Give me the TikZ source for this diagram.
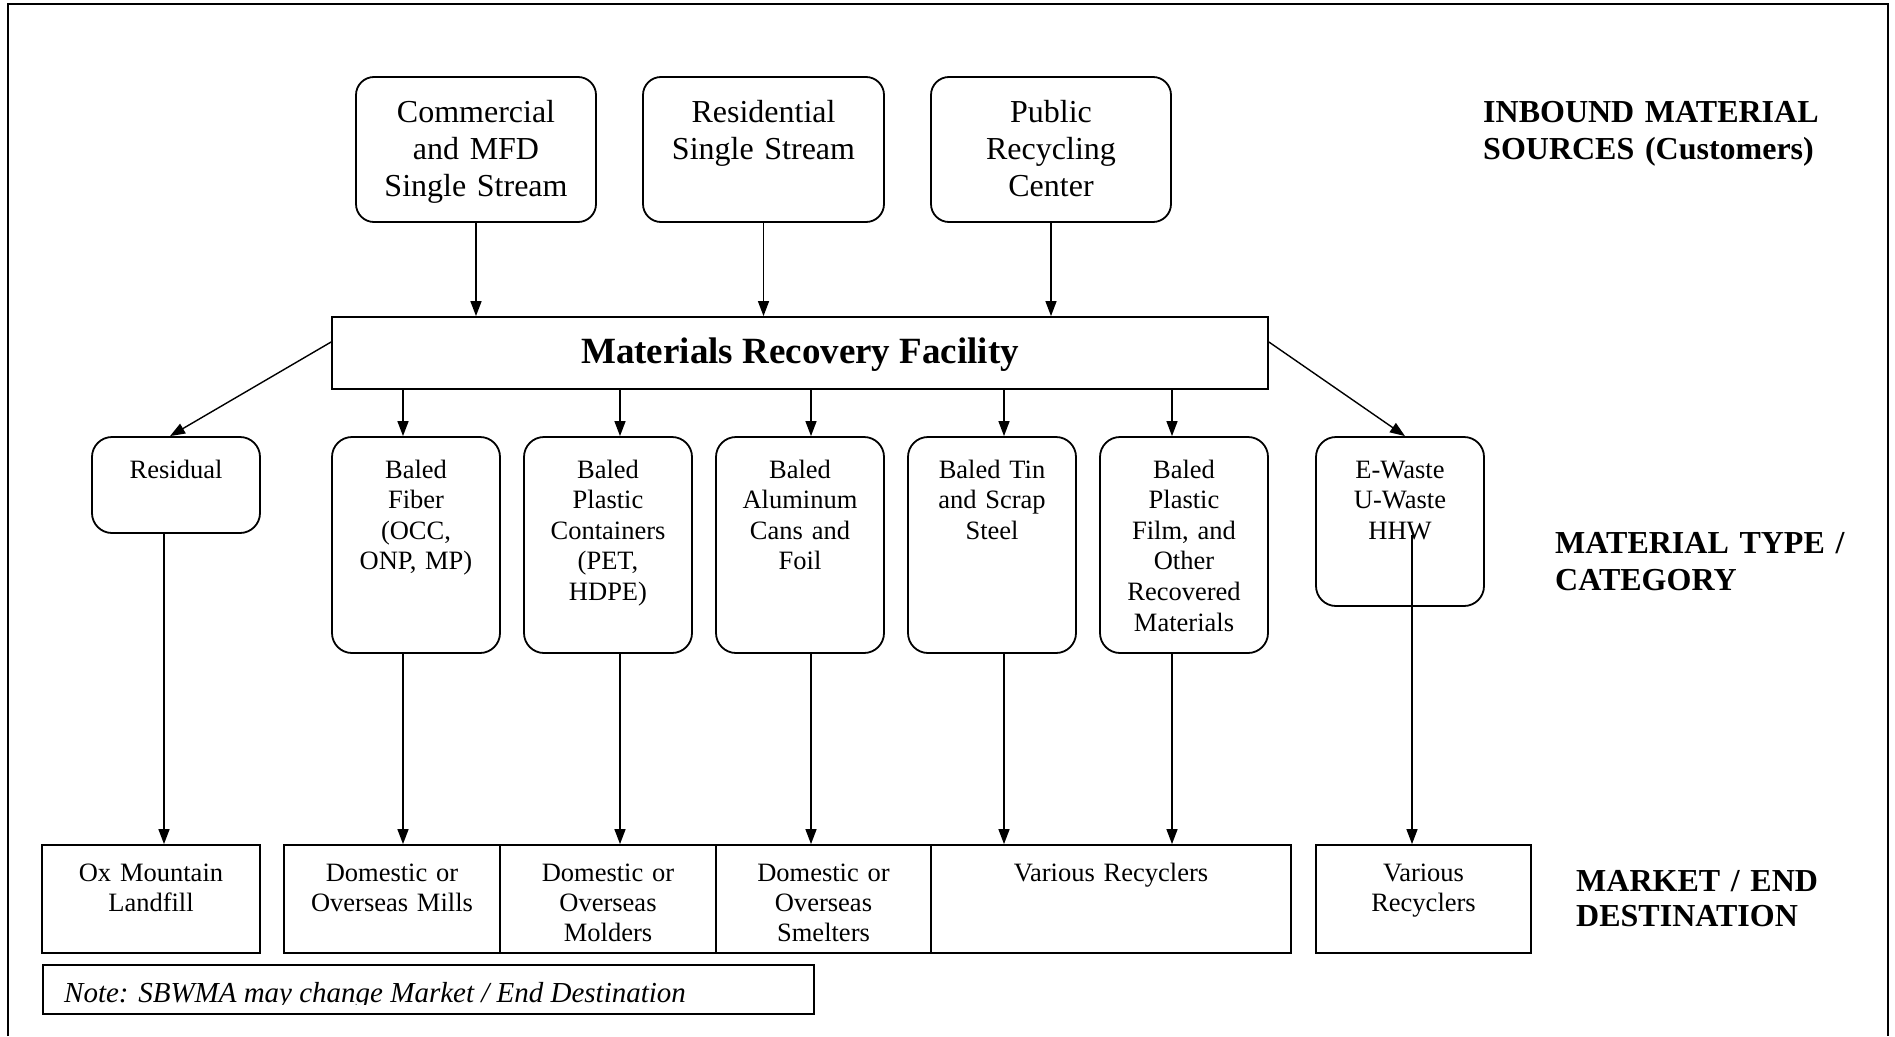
\documentclass[tikz,border=0pt]{standalone}
\usepackage{fontspec}
\setmainfont{Liberation Serif}
\usetikzlibrary{arrows.meta}
\begin{document}
\begin{tikzpicture}[x=1pt,y=-1pt,
  box/.style={draw, line width=1.8pt, inner sep=0pt},
  rbox/.style={box, rounded corners=18pt},
  arr/.style={line width=1.4pt, -{Triangle[length=15pt,width=11pt]}},
  toptxt/.style={anchor=base, align=center, inner sep=0pt, text width=230pt, font=\fontsize{32}{37}\selectfont},
  midtxt/.style={anchor=base, align=center, inner sep=0pt, text width=#1, font=\fontsize{26.5}{30.6}\selectfont},
  midtxt/.default=160pt,
  bottxt/.style={anchor=base, align=center, inner sep=0pt, text width=#1, font=\fontsize{26.5}{30}\selectfont},
  bottxt/.default=205pt,
  sidelabel/.style={anchor=base west, align=left, inner sep=0pt, text width=380pt, font=\bfseries\fontsize{32}{37}\selectfont}
]
\useasboundingbox (0,0) rectangle (1895,1036);

% outer frame
\draw[line width=2pt] (8,1036) -- (8,4) -- (1888,4) -- (1888,1036);

% inbound sources
\node[rbox, minimum width=240pt, minimum height=145pt] (comm) at (476,149.5) {};
\node[rbox, minimum width=241pt, minimum height=145pt] (resi) at (763.5,149.5) {};
\node[rbox, minimum width=240pt, minimum height=145pt] (pub) at (1051,149.5) {};
\node[toptxt] (commT) at (476,122) {Commercial\\and MFD\\Single Stream};
\node[toptxt] (resiT) at (763.5,122) {Residential\\Single Stream};
\node[toptxt] (pubT) at (1051,122) {Public\\Recycling\\Center};

% MRF
\node[box, minimum width=936pt, minimum height=72pt] (mrf) at (800,353) {};
\node[anchor=base, inner sep=0pt, font=\bfseries\fontsize{37}{42}\selectfont] (mrfT) at (800,363.5) {Materials Recovery Facility};

\draw[arr] (comm.south) -- (comm.south |- mrf.north);
\draw[arr] (resi.south) -- (resi.south |- mrf.north);
\draw[arr] (pub.south) -- (pub.south |- mrf.north);

% material categories
\node[box, rounded corners=20pt, minimum width=168pt, minimum height=96pt] (resid) at (176,485) {};
\node[box, rounded corners=20pt, minimum width=168pt, minimum height=216pt] (fiber) at (416,545) {};
\node[box, rounded corners=20pt, minimum width=168pt, minimum height=216pt] (plast) at (608,545) {};
\node[box, rounded corners=20pt, minimum width=168pt, minimum height=216pt] (alum) at (800,545) {};
\node[box, rounded corners=20pt, minimum width=168pt, minimum height=216pt] (tin) at (992,545) {};
\node[box, rounded corners=20pt, minimum width=168pt, minimum height=216pt] (film) at (1184,545) {};
\node[box, rounded corners=20pt, minimum width=168pt, minimum height=169pt] (ewaste) at (1400,521.5) {};
\node[midtxt] (residT) at (176,478) {Residual};
\node[midtxt] (fiberT) at (416,478) {Baled\\Fiber\\(OCC,\\ONP, MP)};
\node[midtxt] (plastT) at (608,478) {Baled\\Plastic\\Containers\\(PET,\\HDPE)};
\node[midtxt] (alumT) at (800,478) {Baled\\Aluminum\\Cans and\\Foil};
\node[midtxt] (tinT) at (992,478) {Baled Tin\\and Scrap\\Steel};
\node[midtxt] (filmT) at (1184,478) {Baled\\Plastic\\Film, and\\Other\\Recovered\\Materials};
\node[midtxt] (ewasteT) at (1400,478) {E-Waste\\U-Waste\\HHW};

% connector columns
\coordinate (c0) at (164,0);
\coordinate (c1) at (403,0);
\coordinate (c2) at (620,0);
\coordinate (c3) at (811,0);
\coordinate (c4) at (1004,0);
\coordinate (c5) at (1172,0);
\coordinate (hhw) at (1412,535);

\draw[arr] (mrf.south -| c1) -- (fiber.north -| c1);
\draw[arr] (mrf.south -| c2) -- (plast.north -| c2);
\draw[arr] (mrf.south -| c3) -- (alum.north -| c3);
\draw[arr] (mrf.south -| c4) -- (tin.north -| c4);
\draw[arr] (mrf.south -| c5) -- (film.north -| c5);
\draw[arr] ([yshift=11pt]mrf.west) -- ([xshift=-6pt]resid.north);
\draw[arr] ([yshift=11pt]mrf.east) -- ([xshift=5pt]ewaste.north);

% market / end destination
\node[box, minimum width=218pt, minimum height=108pt] (ox) at (151,899) {};
\node[box, minimum width=216pt, minimum height=108pt] (mills) at (392,899) {};
\node[box, minimum width=216pt, minimum height=108pt] (molders) at (608,899) {};
\node[box, minimum width=215pt, minimum height=108pt] (smelt) at (823.5,899) {};
\node[box, minimum width=360pt, minimum height=108pt] (varA) at (1111,899) {};
\node[box, minimum width=215pt, minimum height=108pt] (varB) at (1423.5,899) {};
\node[bottxt] (oxT) at (151,881) {Ox Mountain\\Landfill};
\node[bottxt] (millsT) at (392,881) {Domestic or\\Overseas Mills};
\node[bottxt] (moldersT) at (608,881) {Domestic or\\Overseas\\Molders};
\node[bottxt] (smeltT) at (823.5,881) {Domestic or\\Overseas\\Smelters};
\node[bottxt=350pt] (varAT) at (1111,881) {Various Recyclers};
\node[bottxt] (varBT) at (1423.5,881) {Various\\Recyclers};

\draw[arr] (resid.south -| c0) -- (ox.north -| c0);
\draw[arr] (fiber.south -| c1) -- (mills.north -| c1);
\draw[arr] (plast.south -| c2) -- (molders.north -| c2);
\draw[arr] (alum.south -| c3) -- (smelt.north -| c3);
\draw[arr] (tin.south -| c4) -- (varA.north -| c4);
\draw[arr] (film.south -| c5) -- (varA.north -| c5);
\draw[arr] (hhw) -- (hhw |- varB.north);

% note
\begin{scope}
\clip (43,965) rectangle (814,1004.5);
\node[anchor=base west, inner sep=0pt, font=\itshape\fontsize{29}{34}\selectfont] (noteT) at (64,1002) {Note: SBWMA may change Market / End Destination};
\end{scope}
\node[box, minimum width=771pt, minimum height=49pt] (note) at (428.5,989.5) {};

% side labels
\node[sidelabel] (lab1) at (1483,122) {INBOUND MATERIAL\\SOURCES (Customers)};
\node[sidelabel] (lab2) at (1555,553) {MATERIAL TYPE /\\CATEGORY};
\node[sidelabel, font=\bfseries\fontsize{32}{35.5}\selectfont] (lab3) at (1576,891) {MARKET / END\\DESTINATION};
\end{tikzpicture}
\end{document}
